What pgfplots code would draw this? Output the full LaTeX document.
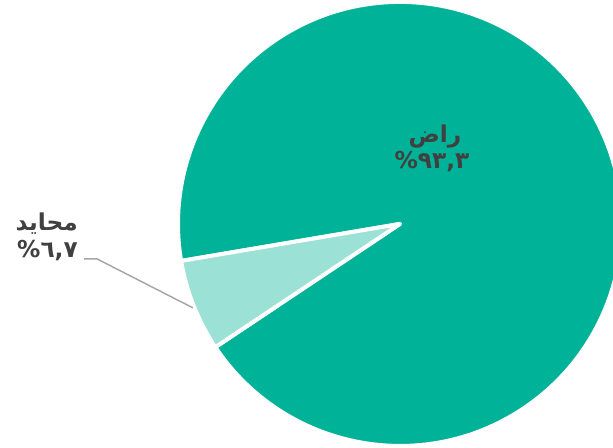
\documentclass[border=0pt]{standalone}
\usepackage{pgfplots}
\pgfplotsset{compat=1.18}
\usepackage{fontspec}
\setmainfont{DejaVu Sans}
\newfontfamily\arabicfont[Script=Arabic]{DejaVu Sans}
\TeXXeTstate=1
\definecolor{satisfied}{HTML}{00B398}
\definecolor{neutral}{HTML}{9CE1D6}
\definecolor{lbl}{HTML}{404040}
\definecolor{leader}{HTML}{A6A6A6}

% shares in percent
\def\valSatisfied{93.3}
\def\valNeutral{6.7}

\begin{document}
\begin{tikzpicture}
\def\R{5.874cm}
\pgfmathsetmacro{\startA}{189.6}
\pgfmathsetmacro{\midA}{\startA+3.6*\valNeutral}
\pgfmathsetmacro{\endA}{\midA+3.6*\valSatisfied}
\begin{axis}[
  width=16.22cm, height=11.85cm, scale only axis,
  xmin=0, xmax=613, ymin=0, ymax=448,
  axis lines=none, clip=true,
]
% pie slices, centre (400,224)
\fill[satisfied, draw=white, line width=3pt, line join=round] (axis cs:400,224) -- ++(\midA:\R)
  arc[start angle=\midA, end angle=\endA, radius=\R] -- cycle;
\fill[neutral, draw=white, line width=3pt, line join=round] (axis cs:400,224) -- ++(\startA:\R)
  arc[start angle=\startA, end angle=\midA, radius=\R] -- cycle;

% leader line for the small slice
\draw[leader, line width=1.1pt] (axis cs:84,189) -- (axis cs:97,189) -- (axis cs:193,140);

% labels
\node[anchor=east, text=lbl, font=\fontsize{17.5}{20}\selectfont\bfseries, inner sep=0pt]
  at (axis cs:78,224) {\arabicfont\beginR محايد\endR};
\node[anchor=east, text=lbl, font=\fontsize{17.5}{20}\selectfont\bfseries, inner sep=0pt]
  at (axis cs:78,197) {\arabicfont\beginR ٦,٧\%\endR};
\node[text=lbl, font=\fontsize{17.5}{20}\selectfont\bfseries, inner sep=0pt]
  at (axis cs:435,311) {\arabicfont\beginR راض\endR};
\node[text=lbl, font=\fontsize{17.5}{20}\selectfont\bfseries, inner sep=0pt]
  at (axis cs:432,286) {\arabicfont\beginR ٩٣,٣\%\endR};
\end{axis}
\pgfresetboundingbox
\path (current axis.south west) rectangle (current axis.north east);
\end{tikzpicture}
\end{document}
